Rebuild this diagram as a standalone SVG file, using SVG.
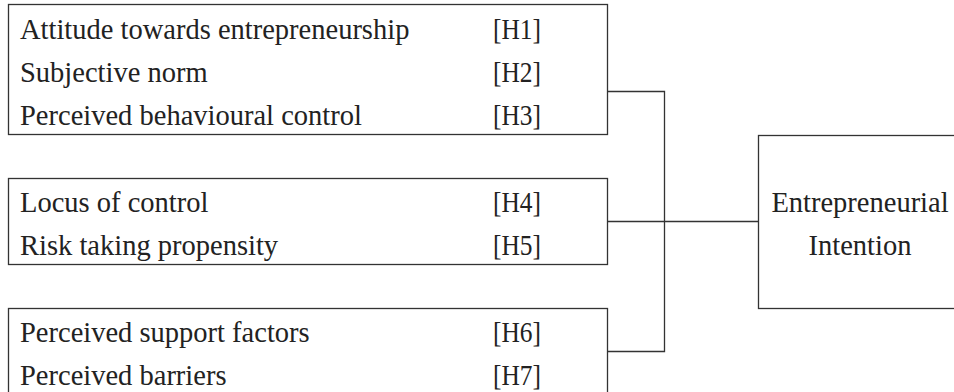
<svg xmlns="http://www.w3.org/2000/svg" width="954" height="392" viewBox="0 0 954 392">
<style>
.box{fill:#fff;stroke:#333;stroke-width:1.3}
.con{fill:none;stroke:#333;stroke-width:1.3}
text{font-family:"Liberation Serif","Times New Roman",serif;font-size:28.5px;fill:#222}
.c{text-anchor:middle}
</style>
<rect width="954" height="392" fill="#fff"/>
<g id="connectors">
<path class="con" d="M607.5 91.5H664.5V351.5H607.5"/>
<path class="con" d="M607.5 221.5H758.5"/>
</g>
<g id="tpb">
<rect class="box" x="8.5" y="4.5" width="599" height="130"/>
<text x="20" y="39">Attitude towards entrepreneurship</text>
<text x="493" y="39" textLength="48" lengthAdjust="spacingAndGlyphs">[H1]</text>
<text x="20" y="82">Subjective norm</text>
<text x="493" y="82" textLength="48" lengthAdjust="spacingAndGlyphs">[H2]</text>
<text x="20" y="125">Perceived behavioural control</text>
<text x="493" y="125" textLength="48" lengthAdjust="spacingAndGlyphs">[H3]</text>
</g>
<g id="personality">
<rect class="box" x="8.5" y="178.5" width="599" height="86"/>
<text x="20" y="212">Locus of control</text>
<text x="493" y="212" textLength="48" lengthAdjust="spacingAndGlyphs">[H4]</text>
<text x="20" y="255">Risk taking propensity</text>
<text x="493" y="255" textLength="48" lengthAdjust="spacingAndGlyphs">[H5]</text>
</g>
<g id="contextual">
<rect class="box" x="8.5" y="308.5" width="599" height="100"/>
<text x="20" y="342">Perceived support factors</text>
<text x="493" y="342" textLength="48" lengthAdjust="spacingAndGlyphs">[H6]</text>
<text x="20" y="385">Perceived barriers</text>
<text x="493" y="385" textLength="48" lengthAdjust="spacingAndGlyphs">[H7]</text>
</g>
<g id="intention">
<rect class="box" x="758.5" y="135.5" width="220" height="173"/>
<text class="c" x="860" y="212">Entrepreneurial</text>
<text class="c" x="860" y="255">Intention</text>
</g>
</svg>
